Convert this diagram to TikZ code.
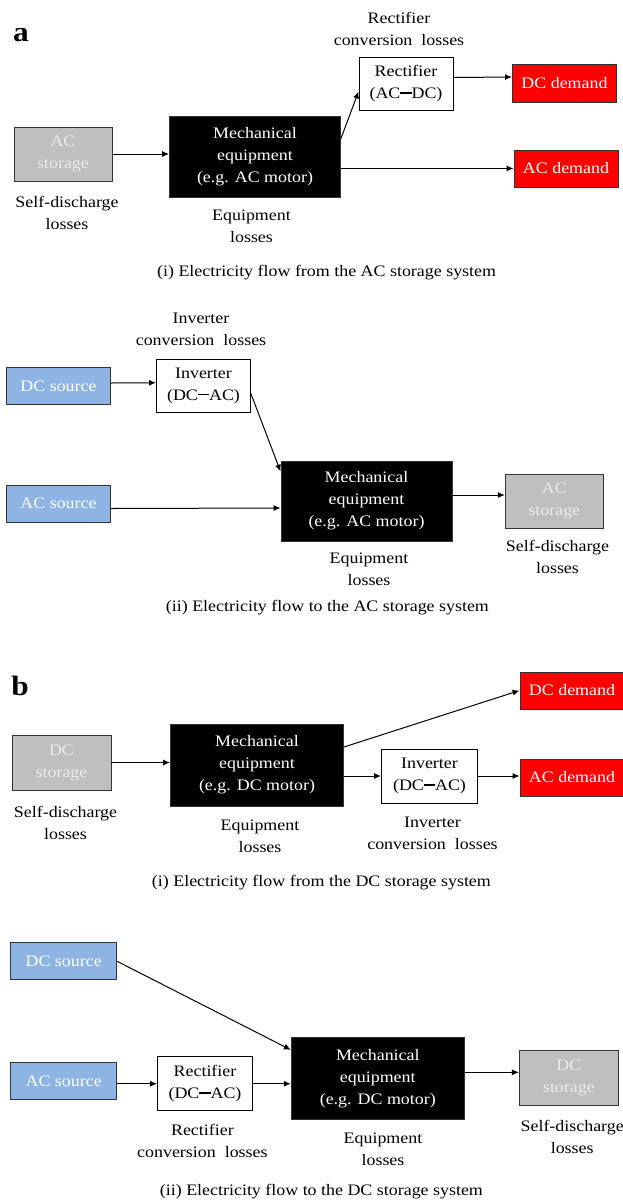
\documentclass[tikz,border=0pt]{standalone}
\usepackage{fontspec}
\setmainfont[FakeStretch=1.12]{Liberation Serif}
\usetikzlibrary{arrows.meta}
\definecolor{srcblue}{HTML}{8EB4E3}
\definecolor{boxedge}{HTML}{333333}
\newcommand{\cdash}{\rule[0.3em]{0.7em}{1.5pt}}
\tikzset{
  box/.style={draw=boxedge,line width=0.9pt,inner sep=0pt,align=center},
  storebox/.style={box,fill=gray!50,text=white!92!black,minimum width=98pt,minimum height=54pt},
  srcbox/.style={box,fill=srcblue,text=white,minimum width=104pt,minimum height=37pt},
  dembox/.style={box,fill=red,text=white,minimum width=104pt,minimum height=37pt},
  convbox/.style={box,draw=black,fill=white,minimum width=94pt,minimum height=53pt},
  mechbox/.style={box,fill=black,text=white,minimum width=171pt,minimum height=81pt},
  note/.style={align=center},
  lbl/.style={font=\fontsize{28}{28}\selectfont\bfseries},
  flow/.style={->,line width=1pt},
}
\begin{document}
\begin{tikzpicture}[x=1pt,y=-1pt,>={Latex[length=7pt,width=6pt]},font=\fontsize{16}{22}\selectfont]
\useasboundingbox (0,0) rectangle (622,1203);
% a (i)
\node[lbl] (lbla) at (21,35) {a};
\node[note] (a1rectloss) at (399,29) {Rectifier\\conversion~ losses};
\node[storebox] (a1store) at (63,154) {AC\\storage};
\node[mechbox] (a1mech) at (255,156.5) {Mechanical\\equipment\\(e.g. AC motor)};
\node[convbox] (a1rect) at (406,83.5) {Rectifier\\(AC\cdash DC)};
\node[dembox,minimum height=38pt] (a1dcdem) at (564.5,83) {DC demand};
\node[dembox] (a1acdem) at (566,168.5) {AC demand};
\node[note] (a1selfloss) at (67,213) {Self-discharge\\losses};
\node[note] (a1eqloss) at (251.5,226) {Equipment\\losses};
\node (a1cap) at (326.6,273) {(i) Electricity flow from the AC storage system};
\draw[flow] (a1store.east) -- (a1store.east -| a1mech.west);
\draw[flow] ([yshift=18pt]a1mech.east) -- ([yshift=-8pt]a1rect.west);
\draw[flow] ([yshift=6pt]a1rect.east) -- ([yshift=6pt]a1dcdem.west);
\draw[flow] (a1mech.east |- a1acdem.west) -- (a1acdem.west);
% a (ii)
\node[note] (a2invloss) at (201,329.5) {Inverter\\conversion~ losses};
\node[srcbox] (a2dcsrc) at (58.5,386) {DC source};
\node[convbox] (a2inv) at (203.5,385.7) {Inverter\\(DC\cdash AC)};
\node[srcbox] (a2acsrc) at (58.5,503.5) {AC source};
\node[mechbox,minimum height=80pt] (a2mech) at (366.5,501) {Mechanical\\equipment\\(e.g. AC motor)};
\node[storebox] (a2store) at (554.3,501) {AC\\storage};
\node[note] (a2eqloss) at (369,569) {Equipment\\losses};
\node[note] (a2selfloss) at (557.5,556.5) {Self-discharge\\losses};
\node (a2cap) at (327.4,607.3) {(ii) Electricity flow to the AC storage system};
\draw[flow] ([yshift=3pt]a2dcsrc.east) -- ([yshift=3pt]a2inv.west);
\draw[flow] ([yshift=-8pt]a2inv.east) -- ([yshift=-11pt]a2mech.north west);
\draw[flow] ([yshift=-5pt]a2acsrc.east) -- ([yshift=-7pt]a2mech.west);
\draw[flow] ([yshift=6pt]a2mech.east) -- ([yshift=6pt]a2store.west);
% b (i)
\node[lbl] (lblb) at (20,686) {b};
\node[dembox] (b1dcdem) at (572,690.5) {DC demand};
\node[storebox,minimum width=99pt,minimum height=55pt] (b1store) at (61.5,762.5) {DC\\storage};
\node[mechbox,minimum width=173pt,minimum height=82pt] (b1mech) at (257,765) {Mechanical\\equipment\\(e.g. DC motor)};
\node[convbox,minimum width=96pt,minimum height=54pt] (b1inv) at (429.5,776) {Inverter\\(DC\cdash AC)};
\node[dembox] (b1acdem) at (572,777.5) {AC demand};
\node[note] (b1selfloss) at (65.5,823) {Self-discharge\\losses};
\node[note] (b1eqloss) at (260,836.5) {Equipment\\losses};
\node[note] (b1invloss) at (432.5,833) {Inverter\\conversion~ losses};
\node (b1cap) at (321.4,882.3) {(i) Electricity flow from the DC storage system};
\draw[flow] (b1store.east) -- (b1store.east -| b1mech.west);
\draw[flow] ([yshift=18pt]b1mech.east) -- (b1dcdem.west);
\draw[flow] (b1mech.east |- b1inv.west) -- (b1inv.west);
\draw[flow] (b1inv.east) -- (b1inv.east -| b1acdem.west);
% b (ii)
\node[srcbox,minimum width=106pt] (b2dcsrc) at (63.7,961.3) {DC source};
\node[srcbox,minimum width=106pt] (b2acsrc) at (63.7,1081.3) {AC source};
\node[convbox,minimum width=95pt,minimum height=54pt] (b2rect) at (205,1083.7) {Rectifier\\(DC\cdash AC)};
\node[mechbox,minimum width=173pt,minimum height=82pt] (b2mech) at (377.8,1078.3) {Mechanical\\equipment\\(e.g. DC motor)};
\node[storebox,minimum width=99pt,minimum height=55pt] (b2store) at (568.9,1078.3) {DC\\storage};
\node[note] (b2rectloss) at (202.4,1140.5) {Rectifier\\conversion~ losses};
\node[note] (b2eqloss) at (383,1149.5) {Equipment\\losses};
\node[note] (b2selfloss) at (572.2,1136.5) {Self-discharge\\losses};
\node (b2cap) at (321.4,1191.7) {(ii) Electricity flow to the DC storage system};
\draw[flow] (b2dcsrc.east) -- ([yshift=-13pt]b2mech.north west);
\draw[flow] (b2acsrc.east |- b2rect.west) -- (b2rect.west);
\draw[flow] (b2rect.east) -- (b2rect.east -| b2mech.west);
\draw[flow] ([yshift=6pt]b2mech.east) -- ([yshift=6pt]b2store.west);
\end{tikzpicture}
\end{document}
